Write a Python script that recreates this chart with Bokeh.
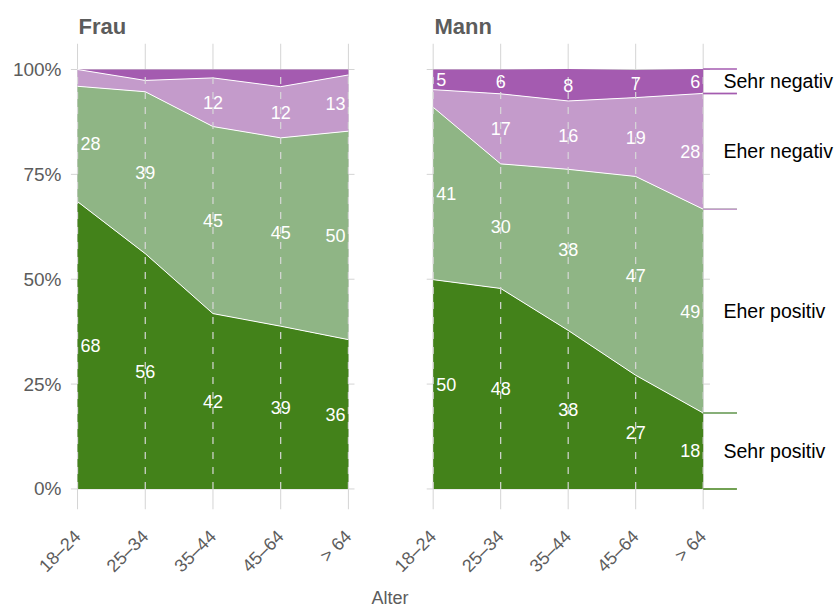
import math
from bokeh.plotting import figure
from bokeh.layouts import row, column
from bokeh.models import FixedTicker, Range1d, Div
from bokeh.core.properties import value
from bokeh.embed import file_html
from bokeh.resources import INLINE

# ---------------- data ----------------
age_groups = ["18–24", "25–34", "35–44", "45–64", "> 64"]
categories = ["Sehr positiv", "Eher positiv", "Eher negativ", "Sehr negativ"]

frau_sehr_positiv = [68.5, 56.1, 41.8, 38.8, 35.6]
frau_eher_positiv = [27.5, 38.6, 44.6, 44.9, 49.7]
frau_eher_negativ = [4.0, 2.7, 11.6, 12.2, 13.4]
frau_sehr_negativ = [0.0, 2.6, 2.0, 4.1, 1.3]

mann_sehr_positiv = [49.9, 47.8, 37.8, 27.1, 18.1]
mann_eher_positiv = [41.1, 29.7, 38.4, 47.4, 48.6]
mann_eher_negativ = [4.2, 16.7, 16.3, 18.8, 27.6]
mann_sehr_negativ = [4.8, 5.8, 7.6, 6.6, 5.8]

y_ticks = [0, 25, 50, 75, 100]
y_tick_labels = ["0%", "25%", "50%", "75%", "100%"]

colors = ["#43821a", "#8fb585", "#c49bcb", "#a45bb0"]

# ---------------- style constants ----------------
FONT = "Liberation Sans"
GREY = "#5c5c5c"
GRID = "#d4d4d4"
Y_RANGE = (-4.9, 106.2)
XPAD = 0.1
LABEL_MIN = 5
LEG_LEN = 0.5
LEG_DX = 0.3
PX_PER_X = 67.5


def panel(title, series, width, x_range, show_y, legend, border_left, border_right):
    p = figure(width=width, height=589, output_backend="svg", toolbar_location=None,
               x_range=Range1d(*x_range), y_range=Range1d(*Y_RANGE),
               min_border_top=43, min_border_bottom=80, min_border_left=border_left,
               min_border_right=border_right)
    p.outline_line_color = None
    p.background_fill_color = "white"
    p.border_fill_color = "white"
    p.xgrid.visible = False
    p.ygrid.visible = False

    xs = list(range(len(age_groups)))
    last = len(xs) - 1

    # grid lines (under the areas)
    p.segment(x0=xs, y0=[Y_RANGE[0]] * len(xs), x1=xs, y1=[Y_RANGE[1]] * len(xs),
              line_color=GRID, line_width=1)
    p.segment(x0=[xs[0] - XPAD] * len(y_ticks), y0=y_ticks,
              x1=[xs[-1] + XPAD] * len(y_ticks), y1=y_ticks,
              line_color=GRID, line_width=1)

    # stacked areas
    lows, highs = [], []
    base = [0.0] * len(xs)
    for vals, color in zip(series, colors):
        top = [b + v for b, v in zip(base, vals)]
        p.varea(x=xs, y1=base, y2=top, fill_color=color)
        lows.append(base)
        highs.append(top)
        base = top
    for top in highs[:-1]:
        p.line(x=xs, y=top, line_color="white", line_width=1)

    # dashed verticals on top
    p.segment(x0=xs, y0=[0] * len(xs), x1=xs, y1=highs[-1],
              line_color="#d8d8d8", line_width=1.2, line_dash="7 8")

    # value labels
    groups = [("left", [0], 3), ("center", xs[1:last], 0), ("right", [last], -3)]
    for align, cols, dx in groups:
        tx, ty, tt = [], [], []
        for k, vals in enumerate(series):
            for j in cols:
                if round(vals[j]) >= LABEL_MIN:
                    tx.append(xs[j])
                    ty.append((lows[k][j] + highs[k][j]) / 2)
                    tt.append(str(int(round(vals[j]))))
        p.text(x=tx, y=ty, text=tt, text_align=align, text_baseline="middle",
               x_offset=dx, text_color="white", text_font=value(FONT),
               text_font_size="18px")

    # right-hand legend
    if legend:
        for k, (name, color) in enumerate(zip(categories, colors)):
            lo, hi = lows[k][last], highs[k][last]
            p.segment(x0=[xs[last]] * 2, y0=[lo, hi], x1=[xs[last] + LEG_LEN] * 2,
                      y1=[lo, hi], line_color=color, line_width=1.5)
            p.text(x=[xs[last] + LEG_DX], y=[(lo + hi) / 2], text=[name],
                   text_align="left", text_baseline="middle", text_color="black",
                   text_font=value(FONT), text_font_size="19.5px")

    # axes
    p.xaxis.ticker = FixedTicker(ticks=xs)
    p.xaxis.major_label_overrides = {x: g for x, g in zip(xs, age_groups)}
    p.xaxis.major_label_orientation = math.pi / 4
    p.xaxis.major_label_standoff = 24
    for ax in (p.xaxis, p.yaxis):
        ax.axis_line_color = None
        ax.major_tick_line_color = None
        ax.minor_tick_line_color = None
        ax.major_tick_out = 0
        ax.major_tick_in = 0
        ax.major_label_text_font = FONT
        ax.major_label_text_font_size = "18px"
        ax.major_label_text_color = GREY
    p.yaxis.ticker = FixedTicker(ticks=y_ticks)
    p.yaxis.major_label_overrides = {t: l for t, l in zip(y_ticks, y_tick_labels)}
    p.yaxis.major_label_text_font_size = "19px"
    p.yaxis.major_label_standoff = 9
    p.yaxis.visible = show_y

    p.title.text = title
    p.title.text_font = FONT
    p.title.text_font_size = "22px"
    p.title.text_font_style = "bold"
    p.title.text_color = GREY
    p.title.align = "left"
    p.title.offset = 8
    p.title.standoff = 9
    return p


frau = panel("Frau", [frau_sehr_positiv, frau_eher_positiv, frau_eher_negativ, frau_sehr_negativ],
             364, (-0.104, 4.09), True, False, 70, 10)
mann = panel("Mann", [mann_sehr_positiv, mann_eher_positiv, mann_eher_negativ, mann_sehr_negativ],
             470, (-0.099, -0.099 + 408 / PX_PER_X), False, True, 62, 0)

alter = Div(text="Alter", width=780, height=18, margin=(0, 0, 0, 0),
            styles={"font-family": FONT, "font-size": "18px", "color": GREY,
                    "text-align": "center", "line-height": "18px"})

layout = column(row(frau, mann), alter)

open("out.html", "w").write(file_html(layout, INLINE))
